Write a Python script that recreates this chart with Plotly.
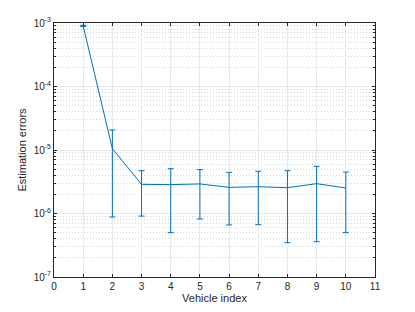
import plotly.graph_objects as go

vehicle = [1, 2, 3, 4, 5, 6, 7, 8, 9, 10]
mean_err = [8.97e-4, 1.05e-5, 2.88e-6, 2.85e-6, 2.92e-6, 2.58e-6, 2.64e-6, 2.55e-6, 2.95e-6, 2.52e-6]
upper = [9.2e-4, 2.07e-5, 4.72e-6, 5.08e-6, 4.9e-6, 4.45e-6, 4.62e-6, 4.72e-6, 5.53e-6, 4.5e-6]
lower = [8.8e-4, 8.8e-7, 9.1e-7, 4.99e-7, 8.2e-7, 6.6e-7, 6.67e-7, 3.47e-7, 3.6e-7, 5.0e-7]

xticks = list(range(0, 12))
ytick_vals = [1e-7, 1e-6, 1e-5, 1e-4, 1e-3]
ytick_text = ["10<sup>-7</sup>", "10<sup>-6</sup>", "10<sup>-5</sup>", "10<sup>-4</sup>", "10<sup>-3</sup>"]
minor_vals = [m * d for d in [1e-7, 1e-6, 1e-5, 1e-4] for m in range(2, 10)]

blue = "#0072BD"
err_plus = [u - m for u, m in zip(upper, mean_err)]
err_minus = [m - l for m, l in zip(mean_err, lower)]

fig = go.Figure()
fig.add_trace(go.Scatter(
    x=vehicle, y=mean_err, mode="lines",
    line=dict(color=blue, width=1),
    error_y=dict(type="data", symmetric=False, array=err_plus, arrayminus=err_minus,
                 color=blue, thickness=1, width=3),
    showlegend=False,
))

axis_font = dict(family="Liberation Sans, Arial, sans-serif", size=10, color="#262626")
fig.update_layout(
    width=415, height=312,
    margin=dict(l=54, r=40, t=23, b=35, autoexpand=False),
    paper_bgcolor="white", plot_bgcolor="white",
    font=axis_font,
)
fig.update_xaxes(
    range=[0, 11], tickmode="array", tickvals=xticks, automargin=False,
    ticks="inside", ticklen=3, tickcolor="#262626",
    showline=True, linecolor="#262626", linewidth=1, mirror="allticks",
    showgrid=True, gridcolor="#e8e8e8", gridwidth=1, zeroline=False,
    title=dict(text="Vehicle index", font=dict(size=11, color="#262626"), standoff=2),
    tickfont=axis_font,
)
fig.update_yaxes(
    type="log", range=[-7, -3], tickmode="array", tickvals=ytick_vals, ticktext=ytick_text,
    automargin=False,
    ticks="inside", ticklen=3, tickcolor="#262626",
    showline=True, linecolor="#262626", linewidth=1, mirror="allticks",
    showgrid=True, gridcolor="#e8e8e8", gridwidth=1, zeroline=False,
    minor=dict(tickmode="array", tickvals=minor_vals, ticks="inside", ticklen=2,
               tickcolor="#262626", showgrid=True, gridcolor="#d6d6d6", griddash="1px,2px", gridwidth=1),
    title=dict(text="Estimation errors", font=dict(size=11, color="#262626"), standoff=4),
    tickfont=axis_font,
)
fig.write_html("out.html", config={"displayModeBar": False},
               post_script="document.body.style.margin='0';document.body.style.overflow='hidden';")
